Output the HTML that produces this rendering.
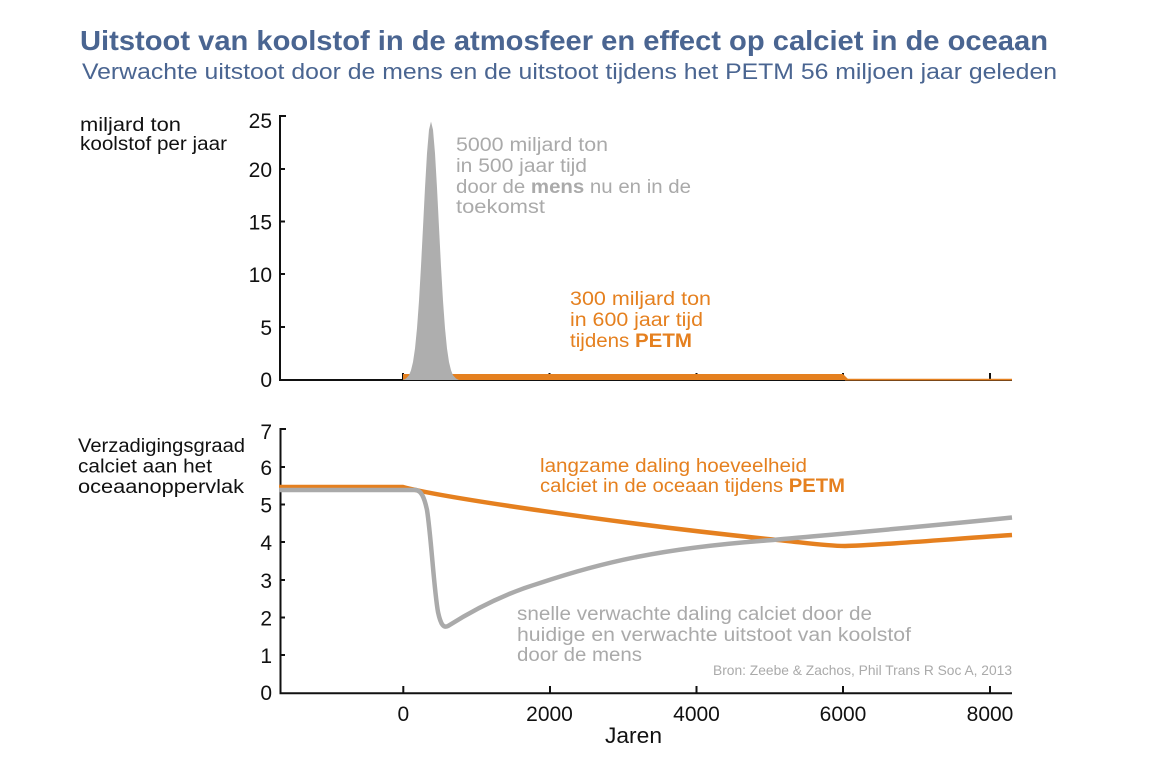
<!DOCTYPE html>
<html>
<head>
<meta charset="utf-8">
<style>
html,body{margin:0;padding:0;background:#fff;}
svg{display:block;}
text{font-family:"Liberation Sans",sans-serif;}
</style>
</head>
<body>
<svg width="1156" height="760" viewBox="0 0 1156 760" xmlns="http://www.w3.org/2000/svg">
<rect width="1156" height="760" fill="#fff"/>
<!-- Titles -->
<text x="80" y="50" font-size="28" font-weight="bold" fill="#4a6591" textLength="968" lengthAdjust="spacingAndGlyphs">Uitstoot van koolstof in de atmosfeer en effect op calciet in de oceaan</text>
<text x="82" y="79" font-size="22" fill="#4a6591" textLength="975" lengthAdjust="spacingAndGlyphs">Verwachte uitstoot door de mens en de uitstoot tijdens het PETM 56 miljoen jaar geleden</text>

<!-- Top chart labels -->
<text x="80" y="131" font-size="19" fill="#111" textLength="101" lengthAdjust="spacingAndGlyphs">miljard ton</text>
<text x="80" y="150" font-size="19" fill="#111" textLength="147" lengthAdjust="spacingAndGlyphs">koolstof per jaar</text>

<!-- Top axes -->
<g stroke="#111" stroke-width="2" fill="none">
<line x1="280" y1="115" x2="280" y2="380"/>
<line x1="279" y1="380" x2="1012" y2="380"/>
<line x1="280" y1="116" x2="286" y2="116"/>
<line x1="280" y1="169" x2="285" y2="169"/>
<line x1="280" y1="221.5" x2="285" y2="221.5"/>
<line x1="280" y1="274" x2="285" y2="274"/>
<line x1="280" y1="327" x2="285" y2="327"/>
<line x1="403" y1="373" x2="403" y2="380"/>
<line x1="549.5" y1="373" x2="549.5" y2="380"/>
<line x1="696.5" y1="373" x2="696.5" y2="380"/>
<line x1="843" y1="373" x2="843" y2="380"/>
<line x1="990" y1="373" x2="990" y2="380"/>
</g>
<g font-size="21" fill="#111" text-anchor="end">
<text x="272" y="128">25</text>
<text x="272" y="177">20</text>
<text x="272" y="229.5">15</text>
<text x="272" y="282">10</text>
<text x="272" y="335">5</text>
<text x="272" y="387">0</text>
</g>

<!-- Top orange band -->
<polygon points="403,374 843,374 849,380 403,380" fill="#e5801f"/>
<line x1="845" y1="379.6" x2="1012" y2="379.6" stroke="#e5801f" stroke-width="1.8"/>

<!-- Gray spike (gaussian, centre 431) -->
<path fill="#aeaeae" d="M403,380 L406,378.5 L409,375.2 L411,370.3 L413,362 L415,348.5 L417,328.3 L419,300.8 L421,266.3 L423,227.2 L425,187.7 L427,153.3 L429,129.8 L431,121.5 L433,129.8 L435,153.3 L437,187.7 L439,227.2 L441,266.3 L443,300.8 L445,328.3 L447,348.5 L449,362 L451,370.3 L453,375.2 L456,378.5 L459,380 Z"/>

<!-- Top annotations -->
<g font-size="19" fill="#aaaaaa">
<text x="456" y="151" textLength="152" lengthAdjust="spacingAndGlyphs">5000 miljard ton</text>
<text x="456" y="172" textLength="131" lengthAdjust="spacingAndGlyphs">in 500 jaar tijd</text>
<text x="456" y="193" textLength="235" lengthAdjust="spacingAndGlyphs">door de <tspan font-weight="bold">mens</tspan> nu en in de</text>
<text x="456" y="213" textLength="89" lengthAdjust="spacingAndGlyphs">toekomst</text>
</g>
<g font-size="19" fill="#e5801f">
<text x="570" y="305" textLength="141" lengthAdjust="spacingAndGlyphs">300 miljard ton</text>
<text x="570" y="326" textLength="133" lengthAdjust="spacingAndGlyphs">in 600 jaar tijd</text>
<text x="570" y="347" textLength="122" lengthAdjust="spacingAndGlyphs">tijdens <tspan font-weight="bold">PETM</tspan></text>
</g>

<!-- Bottom chart labels -->
<g font-size="19" fill="#111">
<text x="78" y="452" textLength="167" lengthAdjust="spacingAndGlyphs">Verzadigingsgraad</text>
<text x="78" y="472.5" textLength="134" lengthAdjust="spacingAndGlyphs">calciet aan het</text>
<text x="78" y="493" textLength="166" lengthAdjust="spacingAndGlyphs">oceaanoppervlak</text>
</g>

<!-- Bottom axes -->
<g stroke="#111" stroke-width="2" fill="none">
<line x1="280.5" y1="428" x2="280.5" y2="694"/>
<line x1="279.5" y1="693.3" x2="1012" y2="693.3"/>
<line x1="280" y1="429" x2="286" y2="429"/>
<line x1="280" y1="467" x2="285" y2="467"/>
<line x1="280" y1="504.5" x2="285" y2="504.5"/>
<line x1="280" y1="542" x2="285" y2="542"/>
<line x1="280" y1="580" x2="285" y2="580"/>
<line x1="280" y1="617.5" x2="285" y2="617.5"/>
<line x1="280" y1="655" x2="285" y2="655"/>
<line x1="403.3" y1="686" x2="403.3" y2="693"/>
<line x1="550" y1="686" x2="550" y2="693"/>
<line x1="696.5" y1="686" x2="696.5" y2="693"/>
<line x1="843" y1="686" x2="843" y2="693"/>
<line x1="990" y1="686" x2="990" y2="693"/>
</g>
<g font-size="21" fill="#111" text-anchor="end">
<text x="272" y="439">7</text>
<text x="272" y="475">6</text>
<text x="272" y="512.5">5</text>
<text x="272" y="550">4</text>
<text x="272" y="588">3</text>
<text x="272" y="625.5">2</text>
<text x="272" y="663">1</text>
<text x="272" y="700">0</text>
</g>
<g font-size="21" fill="#111" text-anchor="middle">
<text x="403.3" y="721">0</text>
<text x="549.5" y="721">2000</text>
<text x="696.5" y="721">4000</text>
<text x="843" y="721">6000</text>
<text x="990" y="721">8000</text>
</g>
<text x="605" y="743" font-size="22" fill="#111" textLength="57" lengthAdjust="spacingAndGlyphs">Jaren</text>

<!-- Bottom series -->
<path fill="none" stroke="#e5801f" stroke-width="4.5" d="M279,487 L403,487 C440,497 620,524 773,539.5 C800,542 825,546 845,546 C870,546 950,539 1012,535"/>
<path fill="none" stroke="#aaaaaa" stroke-width="4.5" d="M279,490 L416,490 C421,491 424,496 427,510 C431,535 434,590 438,612 C441,626 444,628 448,626 C470,612 500,595 540,583 C600,563 660,548 773,540 C850,533 930,526 1012,517.5"/>

<!-- Bottom annotations -->
<g font-size="19" fill="#e5801f">
<text x="540" y="472" textLength="267" lengthAdjust="spacingAndGlyphs">langzame daling hoeveelheid</text>
<text x="540" y="492" textLength="305" lengthAdjust="spacingAndGlyphs">calciet in de oceaan tijdens <tspan font-weight="bold">PETM</tspan></text>
</g>
<g font-size="19" fill="#aaaaaa">
<text x="517" y="620" textLength="355" lengthAdjust="spacingAndGlyphs">snelle verwachte daling calciet door de</text>
<text x="517" y="641" textLength="394" lengthAdjust="spacingAndGlyphs">huidige en verwachte uitstoot van koolstof</text>
<text x="517" y="661" textLength="125" lengthAdjust="spacingAndGlyphs">door de mens</text>
</g>
<text x="713" y="675" font-size="14" fill="#aaaaaa" textLength="299" lengthAdjust="spacingAndGlyphs">Bron: Zeebe &amp; Zachos, Phil Trans R Soc A, 2013</text>
</svg>
</body>
</html>
